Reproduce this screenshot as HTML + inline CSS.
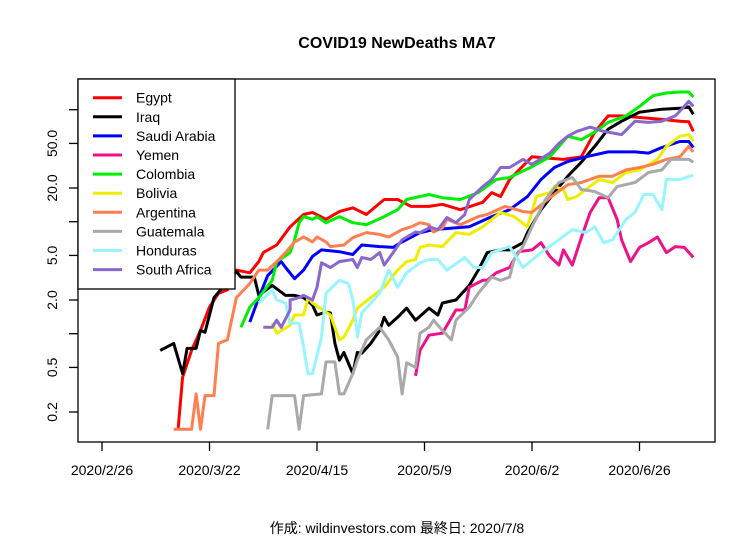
<!DOCTYPE html>
<html><head><meta charset="utf-8">
<style>
html,body{margin:0;padding:0;background:#fff;}
svg{display:block;font-family:"Liberation Sans","Noto Sans CJK JP",sans-serif;}
</style></head>
<body>
<svg id="chart" width="756" height="540" viewBox="0 0 756 540" xmlns="http://www.w3.org/2000/svg">
<rect x="0" y="0" width="756" height="540" fill="#fff"/>
<text x="397" y="48" text-anchor="middle" font-size="16" font-weight="bold">COVID19 NewDeaths MA7</text>
<g id="plot"></g>
<g id="axes"></g>
<g id="legend"></g>
<text x="397" y="533" text-anchor="middle" font-size="14">作成: wildinvestors.com 最終日: 2020/7/8</text>
</svg>
<script>
// x ticks (days since 2020/2/26)
const xTickDays = [0, 24, 48, 72, 96, 120];
const xTickLabels = ["2020/2/26","2020/3/22","2020/4/15","2020/5/9","2020/6/2","2020/6/26"];
const yTickVals = [0.2, 0.5, 1, 2, 5, 10, 20, 50, 100];
const yTickLabels = ["0.2","0.5","","2.0","5.0","","20.0","50.0",""];
const seriesNames = ["Egypt","Iraq","Saudi Arabia","Yemen","Colombia","Bolivia","Argentina","Guatemala","Honduras","South Africa"];
const seriesColors = ["#ff0000","#000000","#0000ff","#ee1289","#00ee00","#eeee00","#ff7f50","#a9a9a9","#98f5ff","#8968cd"];
// [day, value]
const egypt = [[17,0.14],[18,0.41],[20,0.71],[22,1.07],[24,1.73],[26,2.3],[28,2.46],[30,3.7],[33,3.5],[35,4.4],[36,5.3],[39,6.2],[42,9.0],[45,11.6],[47,12.1],[50,10.5],[53,12.3],[56,13.3],[59,11.6],[63,15.8],[66,15.8],[69,13.7],[73,13.7],[76,14.3],[80,12.8],[85,14.9],[87,18.2],[89,16.8],[91,23.8],[96,38],[103,36],[107,38],[110,63],[113,88],[116,88],[119,86],[125,82],[129,79],[131,78],[132,64]];
const iraq = [[13,0.71],[16,0.82],[18,0.44],[19,0.74],[21,0.74],[22,1.07],[23,1.03],[25,2.1],[27,2.6],[28,3.2],[30,3.6],[31,3.2],[33,3.2],[34,3.2],[35,2.2],[38,2.7],[41,2.2],[43,2.2],[45,2.1],[47,1.8],[48,1.47],[50,1.56],[51,1.53],[52,0.82],[53,0.58],[54,0.68],[56,0.44],[57,0.68],[58,0.67],[60,0.82],[62,1.07],[63,1.40],[64,1.19],[66,1.40],[68,1.69],[70,1.32],[73,1.69],[75,1.47],[76,1.88],[79,2.0],[82,2.7],[84,3.7],[86,5.3],[89,5.6],[91,5.6],[94,6.5],[95,8.0],[98,12.8],[101,18.2],[104,25.5],[107,34],[110,47],[113,67],[116,79],[120,95],[125,101],[129,103],[131,106],[132,91]];
const saudi = [[33,1.27],[35,2.1],[37,3.3],[40,4.4],[41,3.9],[43,3.1],[45,3.7],[47,4.9],[49,5.6],[53,5.4],[56,5.1],[58,6.2],[62,6.0],[65,5.9],[67,6.6],[71,8.0],[74,8.5],[82,9.0],[87,11.1],[91,12.8],[95,16.8],[98,23.8],[101,30.5],[104,34.5],[108,38],[113,42],[119,42],[122,41],[125,46],[129,52],[131,52],[132,46]];
const yemen = [[70,0.42],[71,0.71],[73,0.97],[76,1.01],[79,1.63],[81,1.63],[82,2.6],[85,3.0],[86,3.0],[88,3.5],[91,3.9],[93,5.4],[96,5.6],[98,6.5],[100,4.9],[102,4.1],[103,5.6],[105,4.1],[107,7.2],[109,12.1],[111,16.4],[113,16.4],[115,10.5],[116,6.9],[118,4.4],[120,5.9],[122,6.5],[124,7.3],[126,5.3],[128,6.0],[130,5.9],[132,4.8]];
const colombia = [[31,1.14],[33,1.73],[35,2.1],[38,3.0],[39,4.4],[42,5.3],[43,6.9],[44,9.8],[45,11.1],[47,10.5],[48,11.1],[50,9.8],[53,11.1],[56,9.8],[59,9.4],[63,11.1],[66,12.8],[68,15.8],[71,16.8],[73,17.5],[76,16.4],[80,15.8],[84,18.2],[88,23.8],[91,24.8],[96,31],[100,38],[104,58],[107,54],[110,63],[113,77],[117,88],[120,107],[123,133],[126,141],[129,144],[131,144],[132,130]];
const bolivia = [[38,1.25],[39,1.01],[42,1.19],[43,1.47],[45,1.47],[46,2.1],[47,1.88],[50,1.56],[51,1.47],[53,0.88],[54,0.93],[56,1.32],[57,1.69],[60,2.1],[63,2.6],[66,3.7],[68,4.4],[70,4.6],[71,5.9],[73,6.2],[76,6.0],[79,8.0],[82,7.7],[85,9.0],[89,12.1],[92,11.1],[95,9.0],[97,16.8],[100,18.2],[101,20.6],[103,19.4],[104,15.8],[106,16.8],[108,19.4],[111,23.8],[114,22.4],[117,27.5],[120,29],[124,36],[126,47],[129,58],[131,60],[132,52]];
const argentina = [[16,0.14],[20,0.14],[21,0.29],[22,0.14],[23,0.28],[25,0.28],[26,0.82],[28,0.88],[30,2.1],[33,2.8],[35,3.7],[37,3.7],[39,4.4],[41,5.3],[43,6.6],[45,7.3],[47,6.6],[48,7.3],[50,6.6],[51,6.0],[54,6.2],[56,7.2],[59,8.0],[62,7.7],[64,7.3],[67,8.5],[69,9.0],[71,9.8],[73,9.4],[74,8.1],[76,8.8],[77,10.5],[80,9.4],[84,11.1],[86,11.6],[90,13.7],[94,12.3],[96,12.1],[100,16.4],[104,21.4],[107,22.4],[111,25.5],[114,25.5],[117,29],[120,30.5],[123,32.5],[126,36],[129,38],[131,47],[132,42]];
const guatemala = [[37,0.14],[38,0.28],[43,0.28],[44,0.14],[45,0.28],[49,0.29],[50,0.56],[52,0.56],[53,0.29],[54,0.29],[56,0.44],[57,0.58],[59,0.88],[62,1.14],[64,0.88],[66,0.62],[67,0.29],[68,0.55],[70,0.50],[71,1.01],[73,1.14],[74,1.32],[76,1.07],[78,0.88],[79,1.32],[82,1.73],[84,2.3],[87,3.2],[89,3.0],[91,3.2],[92,4.6],[94,6.0],[96,9.0],[99,15.8],[102,22.4],[105,24.8],[107,19.4],[110,18.6],[113,16.4],[115,20.6],[119,22.4],[122,27.5],[125,29],[127,36],[129,36],[131,36],[132,34]];
const honduras = [[35,1.88],[38,2.46],[39,2.0],[41,1.88],[42,1.24],[44,1.24],[45,0.76],[46,0.44],[47,0.44],[49,0.93],[50,2.3],[53,3.0],[55,2.8],[56,2.0],[57,1.01],[57,0.93],[58,1.53],[62,2.3],[64,3.7],[66,2.6],[68,3.5],[71,4.3],[73,4.6],[75,4.6],[77,3.7],[81,4.8],[83,3.9],[85,3.9],[87,5.3],[91,6.0],[94,3.9],[98,5.3],[102,6.9],[105,8.5],[108,8.0],[110,9.0],[112,6.5],[114,6.9],[117,10.5],[119,12.1],[121,17.5],[123,17.5],[125,12.8],[126,23.8],[129,23.8],[132,26]];
const southAfrica = [[36,1.14],[38,1.14],[39,1.32],[40,1.14],[42,1.63],[42,2.0],[44,2.1],[45,2.2],[47,2.0],[48,2.6],[49,4.3],[51,3.9],[53,4.4],[56,4.6],[57,3.9],[58,4.8],[60,4.6],[62,5.3],[63,4.1],[65,5.3],[67,6.9],[70,8.1],[71,8.0],[73,8.8],[73,9.0],[75,8.5],[77,10.9],[79,9.8],[81,11.6],[82,15.8],[85,20.6],[87,23.8],[89,30.5],[91,30.5],[94,36],[96,32.5],[100,41],[102,50],[104,58],[106,64],[109,70],[112,64],[116,60],[119,79],[122,77],[125,79],[128,88],[130,107],[131,119],[132,107]];
const allSeries = [egypt, iraq, saudi, yemen, colombia, bolivia, argentina, guatemala, honduras, southAfrica];

const NS = "http://www.w3.org/2000/svg";
const L = 78, R = 715, T = 79, B = 442;
function xs(d){ return 102 + d * (107.5/24); }
function ys(v){ return 300 - 112 * Math.log10(v / 2); }
function mk(tag, attrs, parent){
  const e = document.createElementNS(NS, tag);
  for (const k in attrs) e.setAttribute(k, attrs[k]);
  parent.appendChild(e);
  return e;
}
const plot = document.getElementById('plot');
const axes = document.getElementById('axes');
const legend = document.getElementById('legend');

allSeries.forEach((s, i) => {
  const pts = s.filter(p => p[0] >= 0).map(p => xs(p[0]).toFixed(1) + ',' + ys(p[1]).toFixed(1)).join(' ');
  const pl = mk('polyline', {points: pts, fill: 'none', stroke: seriesColors[i], 'stroke-width': 3, 'stroke-linejoin': 'round'}, plot);
  
  
});

const box = mk('rect', {x: L, y: T, width: R - L, height: B - T, fill: 'none', stroke: '#000', 'stroke-width': 1.3}, axes);



xTickDays.forEach((d, i) => {
  const x = xs(d);
  const t = mk('line', {x1: x, x2: x, y1: B, y2: B + 9, stroke: '#000', 'stroke-width': 1.3}, axes);
  
  
  const tx = mk('text', {x: x, y: 475, 'text-anchor': 'middle', 'font-size': 14}, axes);
  tx.textContent = xTickLabels[i];
  
  
});
yTickVals.forEach((v, i) => {
  const y = ys(v);
  const t = mk('line', {x1: L - 9, x2: L, y1: y, y2: y, stroke: '#000', 'stroke-width': 1.3}, axes);
  
  
  if (yTickLabels[i]) {
    const tx = mk('text', {x: 0, y: 0, 'text-anchor': 'middle', 'font-size': 14, transform: 'translate(57,' + y.toFixed(1) + ') rotate(-90)'}, axes);
    tx.textContent = yTickLabels[i];
    
    
  }
});

const lb = mk('rect', {x: L, y: T, width: 235 - L, height: 289 - T, fill: '#fff', stroke: '#000', 'stroke-width': 1.3}, legend);


seriesNames.forEach((n, i) => {
  const y = 97.7 + i * 19.1;
  const ln = mk('line', {x1: 93, x2: 122, y1: y, y2: y, stroke: seriesColors[i], 'stroke-width': 3}, legend);
  
  
  const tx = mk('text', {x: 136, y: y + 5, 'font-size': 14}, legend);
  tx.textContent = n;
  
  
});
</script>
</body></html>
